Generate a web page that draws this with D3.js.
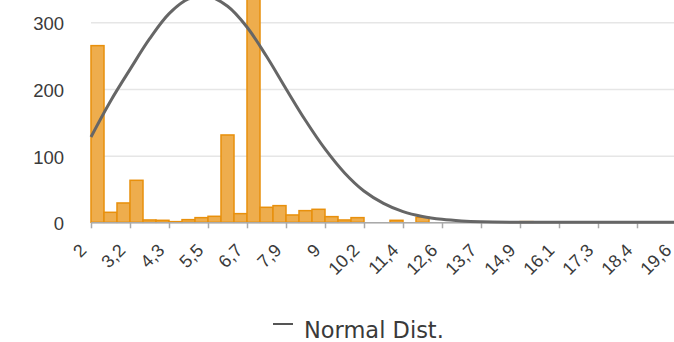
<!DOCTYPE html>
<html>
<head>
<meta charset="utf-8">
<script src="https://cdn.jsdelivr.net/npm/d3@7"></script>
<style>
  body { margin: 0; background: #fff; }
  svg { display: block; font-family: "DejaVu Sans", Verdana, sans-serif; }
</style>
</head>
<body>
<svg id="Histogram"></svg>
<script>
// histogram counts, 45 equal bins from 2 to 19.6
var binCounts = [265, 15, 29, 63, 3.5, 3, 1, 4, 7, 9,
                 131, 13, 430, 22.5, 25, 11, 17.5, 19.5, 8.5, 3.5,
                 7, 0, 0, 3, 0, 7.5, 0, 0, 0, 0,
                 0, 0, 0, 1, 0, 0, 0, 0, 0, 0,
                 0, 0, 0, 0, 0]
var binMin = 2
var binMax = 19.6

// normal distribution curve
var normX = [2, 2.59, 3.17, 3.76, 4.35, 4.93, 5.52, 6.11, 6.69, 7.28, 7.87, 8.45, 9.04, 9.63,
             10.21, 10.8, 11.39, 11.97, 12.56, 13.15, 13.73, 14.91, 16.08, 17.25, 18.43, 19.6]
var normY = [128, 182, 229, 275, 313, 335, 339, 324, 293, 249, 200, 153, 110, 74,
             47, 28.5, 16, 8.8, 4.5, 2.1, 0.9, 0.1, 0, 0, 0, 0]

var xTickLabels = ["2", "3,2", "4,3", "5,5", "6,7", "7,9", "9", "10,2", "11,4", "12,6",
                   "13,7", "14,9", "16,1", "17,3", "18,4", "19,6"]
var yTicks = [0, 100, 200, 300]
var legendLabel = "Normal Dist."

var dimensions = {
    width: 674,
    height: 342,
    margin: {
        top: 22.3,
        bottom: 119.7,
        left: 91,
        right: -2
    }
}

var svg = d3.select("#Histogram")
    .attr("width", dimensions.width)
    .attr("height", dimensions.height)

var plotLeft = dimensions.margin.left
var plotRight = dimensions.width - dimensions.margin.right
var plotBottom = dimensions.height - dimensions.margin.bottom

var xScale = d3.scaleLinear()
    .domain([binMin, binMax])
    .range([plotLeft, plotRight])

var xTickScale = d3.scalePoint()
    .domain(xTickLabels)
    .range([plotLeft, plotRight])

var yScale = d3.scaleLinear()
    .domain([0, 300])
    .range([plotBottom, dimensions.margin.top])

// gridlines + y labels
var yAxisGen = d3.axisLeft(yScale)
    .tickValues(yTicks)
    .tickSize(-(plotRight - plotLeft))
    .tickPadding(27)

var yAxis = svg.append("g")
    .attr("transform", "translate(" + plotLeft + ",0)")
    .call(yAxisGen)
yAxis.select(".domain").remove()
yAxis.selectAll("line")
    .attr("stroke", "#e6e6e6")
    .attr("stroke-width", 1.5)
yAxis.selectAll("text")
    .attr("fill", "#3a3a3a")
    .attr("dy", "0.4em")
    .style("font-size", "18.5px")
    .style("font-family", "inherit")

// bars
var binWidth = (binMax - binMin) / binCounts.length
var bars = svg.append("g")
    .selectAll("rect")
    .data(binCounts.map(function(c, i) { return { i: i, count: c } }).filter(d => d.count > 0))
    .enter()
    .append("rect")
    .attr("x", d => xScale(binMin + d.i * binWidth))
    .attr("width", d => xScale(binMin + (d.i + 1) * binWidth) - xScale(binMin + d.i * binWidth))
    .attr("y", d => yScale(d.count))
    .attr("height", d => plotBottom - yScale(d.count))
    .attr("fill", "#eead4d")
    .attr("stroke", "#e8900c")
    .attr("stroke-width", 1.5)

// x axis
var xAxisGen = d3.axisBottom(xTickScale)
    .tickSize(6)
    .tickSizeOuter(0)

var xAxis = svg.append("g")
    .attr("transform", "translate(0," + plotBottom + ")")
    .call(xAxisGen)
xAxis.select(".domain")
    .attr("stroke", "#aaa")
    .attr("stroke-width", 1.5)
xAxis.selectAll("line")
    .attr("stroke", "#aaa")
    .attr("stroke-width", 1.5)
xAxis.selectAll("text")
    .attr("y", 0)
    .attr("dy", 0)
    .attr("fill", "#3a3a3a")
    .style("text-anchor", "end")
    .style("font-size", "18px")
    .style("font-family", "inherit")
    .attr("transform", "translate(-4,29) rotate(-45)")

// normal curve
var line = d3.line()
    .x(d => xScale(d[0]))
    .y(d => yScale(d[1]))
    .curve(d3.curveCatmullRom)

svg.append("path")
    .datum(normX.map((x, i) => [x, normY[i]]))
    .attr("d", line)
    .attr("fill", "none")
    .attr("stroke", "#666")
    .attr("stroke-width", 3)

// legend
var legend = svg.append("g")
    .attr("transform", "translate(273,324)")
legend.append("line")
    .attr("x1", 0)
    .attr("x2", 20)
    .attr("y1", 0)
    .attr("y2", 0)
    .attr("stroke", "#555")
    .attr("stroke-width", 2)
legend.append("text")
    .attr("x", 31)
    .attr("y", 14)
    .attr("fill", "#3a3a3a")
    .style("font-size", "22.5px")
    .text(legendLabel)
</script>
</body>
</html>
